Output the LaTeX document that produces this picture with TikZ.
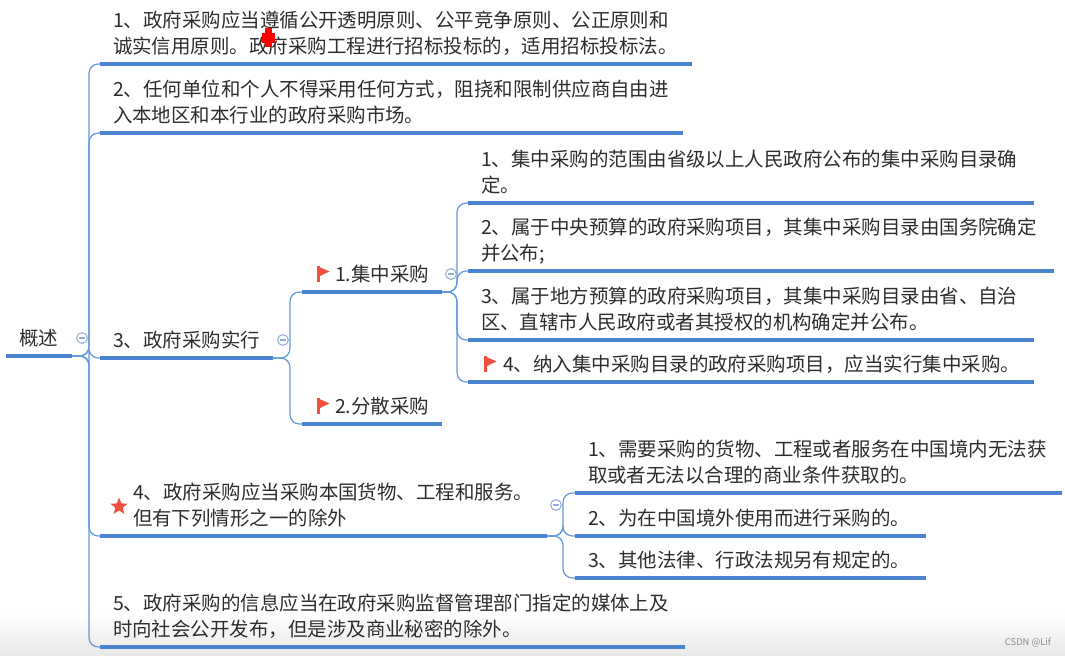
\documentclass[tikz,border=0pt]{standalone}
\usepackage{fontspec}
\setmainfont{Noto Sans CJK SC}
\usepackage{tikz}
\usetikzlibrary{shapes.geometric}
\definecolor{lineblue}{RGB}{72,132,208}
\definecolor{linkblue}{RGB}{100,152,222}
\definecolor{foldgray}{RGB}{150,172,215}
\definecolor{flagred}{RGB}{240,80,64}
\definecolor{textgray}{RGB}{45,45,45}

\tikzset{
  flagmark/.pic={
    \fill[flagred] (0,0) rectangle (2.6,-16);
    \fill[flagred] (0,-16) -- (12.5,-10.5) -- (0,-4.5) -- cycle;
  },
  foldmark/.pic={
    \draw[foldgray, line width=0.8pt] (0,0) circle (5.4);
    \draw[foldgray, line width=0.8pt] (-2.6,0) -- (2.6,0);
  }
}

\begin{document}
\begin{tikzpicture}[x=0.75pt, y=-0.75pt, font=\fontsize{14.6}{19.8}\selectfont,
  topic/.style={anchor=south west, inner xsep=9.75pt, inner ysep=1.6pt, outer sep=0pt,
    text width={(#1-26)*0.75pt}, align=left, text=textgray, execute at end node=\strut},
  uline/.style={lineblue, line width=2.4pt},
  link/.style={linkblue, line width=0.9pt, rounded corners=7pt}]
  \useasboundingbox (0,0) rectangle (1065,656);
  % faint band at the bottom
  \shade[top color=white, bottom color=black!9] (0,612) rectangle (1065,656);

  % root and first level
  \node[topic=66] (root) at (6,356) {概述};
  \node[topic=592] (i1) at (100,64) {1、政府采购应当遵循公开透明原则、公平竞争原则、公正原则和\\诚实信用原则。政府采购工程进行招标投标的，适用招标投标法。};
  \node[topic=583] (i2) at (100,133) {2、任何单位和个人不得采用任何方式，阻挠和限制供应商自由进\\入本地区和本行业的政府采购市场。};
  \node[topic=173] (i3) at (100,358) {3、政府采购实行};
  \node[topic=447] (i4) at (100,536) {\hspace*{15pt}4、政府采购应当采购本国货物、工程和服务。\\\hspace*{15pt}但有下列情形之一的除外};
  \node[topic=585] (i5) at (100,647) {5、政府采购的信息应当在政府采购监督管理部门指定的媒体上及\\时向社会公开发布，但是涉及商业秘密的除外。};

  % second level
  \node[topic=140] (jz) at (302,292) {\hspace*{15pt}1.集中采购};
  \node[topic=140] (fs) at (302,424) {\hspace*{15pt}2.分散采购};
  \node[topic=566] (ss1) at (468,203) {1、集中采购的范围由省级以上人民政府公布的集中采购目录确\\定。};
  \node[topic=586] (ss2) at (468,271) {2、属于中央预算的政府采购项目，其集中采购目录由国务院确定\\并公布;};
  \node[topic=566] (ss3) at (468,340) {3、属于地方预算的政府采购项目，其集中采购目录由省、自治\\区、直辖市人民政府或者其授权的机构确定并公布。};
  \node[topic=566] (ss4) at (468,382) {\hspace*{16.5pt}4、纳入集中采购目录的政府采购项目，应当实行集中采购。};
  \node[topic=487] (a1) at (575,493) {1、需要采购的货物、工程或者服务在中国境内无法获\\取或者无法以合理的商业条件获取的。};
  \node[topic=351] (a2) at (575,536) {2、为在中国境外使用而进行采购的。};
  \node[topic=351] (a3) at (575,578) {3、其他法律、行政法规另有规定的。};

  % where the branches split
  \coordinate (s0) at (89,356);
  \coordinate (s3) at (290,358);
  \coordinate (sj) at (457,292);
  \coordinate (s4) at (563,536);

  \foreach \c in {i1,i2,i3,i4,i5}
    \draw[link] (root.south east) -- (s0) |- (\c.south west);
  \foreach \c in {jz,fs}
    \draw[link] (i3.south east) -- (s3) |- (\c.south west);
  \foreach \c in {ss1,ss2,ss3,ss4}
    \draw[link] (jz.south east) -- (sj) |- (\c.south west);
  \foreach \c in {a1,a2,a3}
    \draw[link] (i4.south east) -- (s4) |- (\c.south west);

  % underlines
  \foreach \n in {root,i1,i2,i3,i4,i5,jz,fs,ss1,ss2,ss3,ss4,a1,a2,a3}
    \draw[uline] (\n.south west) -- (\n.south east);

  % collapse marks
  \pic at ([shift={(10,-18)}]root.south east) {foldmark};
  \pic at ([shift={(10,-18)}]i3.south east) {foldmark};
  \pic at ([shift={(9,-18)}]jz.south east) {foldmark};
  \pic at ([shift={(9,-31)}]i4.south east) {foldmark};

  % flags and star
  \pic at ([shift={(15,0)}]jz.base west) {flagmark};
  \pic at ([shift={(15,0)}]fs.base west) {flagmark};
  \pic at ([shift={(16,0)}]ss4.base west) {flagmark};
  \node[star, star points=5, star point ratio=2.3, fill=flagred, inner sep=0pt,
    minimum size=13.5pt] (st) at ([shift={(19,7)}]i4.base west) {};

  % red marker over the first item
  \fill[red] (262,33) rectangle (275,43);
  \fill[red] (265,28) rectangle (272,47);

  \node[font=\fontsize{7}{8}\selectfont, text=black!45] (wm) at (1028,643) {CSDN @Lif};
\end{tikzpicture}
\end{document}
